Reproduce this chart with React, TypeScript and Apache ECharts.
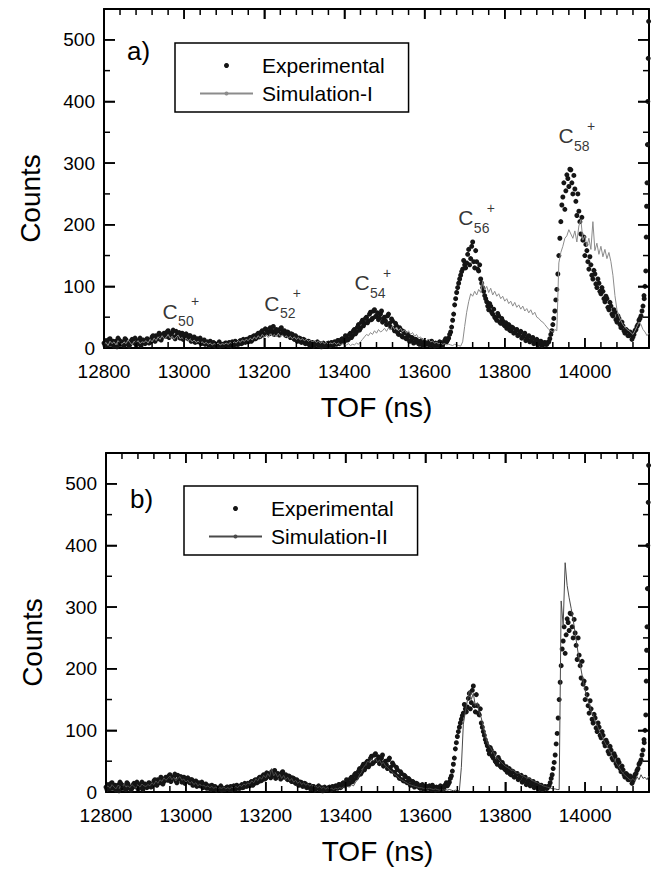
import React, { useEffect, useRef } from "react";
import * as echarts from "echarts";

const TOF_START = 12800;
const TOF_STEP = 5;
const TOF_START_B = 12802.5;
const TOF_MIN = 12800;
const TOF_MAX = 14160;
const COUNT_MIN = 0;
const COUNT_MAX = 550;

// Experimental counts, 5 ns bins from 12800 ns
const expCounts = [
  8, 12, 5, 15, 9, 3, 11, 16, 7, 10, 4, 13, 8, 6, 14, 9, 5, 12, 16, 8, 11,
  10, 14, 9, 18, 13, 20, 15, 22, 17, 24,
  19, 28, 21, 25, 18, 27, 22, 16, 24, 19,
  23, 15, 20, 12, 18, 14, 10, 16, 8, 13,
  9, 6, 11, 5, 8, 4, 7, 3, 6, 5,
  8, 4, 7, 10, 5, 9, 6, 12, 8, 11,
  14, 10, 17, 13, 20, 16, 24, 19, 28, 22,
  30, 25, 33, 27, 22, 30, 26, 31, 24, 28,
  20, 25, 17, 22, 14, 18, 12, 15, 10, 13,
  8, 11, 6, 9, 5, 8, 4, 7, 3, 6,
  5, 8, 4, 7, 10, 6, 12, 9, 15, 11,
  18, 14, 24, 20, 30, 26, 38, 32, 45, 40,
  50, 44, 58, 48, 62, 52, 46, 55, 42, 50,
  38, 55, 34, 44, 28, 36, 22, 30, 18, 25,
  15, 20, 12, 16, 9, 13, 7, 11, 5, 9,
  6, 10, 4, 8, 3, 7, 5, 9, 4, 12,
  10, 16, 26, 45, 70, 90, 105, 118, 128, 135,
  138, 160, 145, 172, 130, 140, 125, 112, 98, 85,
  75, 62, 68, 55, 50, 45, 52, 40, 44, 36,
  32, 38, 28, 33, 25, 30, 22, 27, 18, 24,
  15, 20, 12, 17, 9, 14, 7, 11, 5, 9,
  6, 10, 22, 38, 60, 95, 150, 205, 245, 225,
  281, 262, 289, 250, 258, 215, 222, 185, 175, 150,
  158, 128, 135, 112, 120, 98, 105, 88, 92, 75,
  80, 62, 68, 52, 58, 42, 48, 33, 36, 24,
  28, 20, 24, 18, 28, 35, 45, 52, 68,
];

// Experimental counts, interleaved 5 ns bins from 12802.5 ns
const expCountsB = [
  4, 9, 14, 6, 11, 8, 2, 13, 10, 5, 15, 7, 3, 11, 9, 16, 6, 10, 4, 13, 7,
  15, 8, 12, 20, 11, 16, 24, 13, 19, 21,
  26, 17, 23, 29, 15, 21, 25, 19, 14, 22,
  17, 20, 11, 16, 9, 15, 12, 7, 11, 6,
  10, 4, 7, 9, 3, 6, 10, 5, 4, 8,
  5, 9, 3, 8, 11, 6, 10, 7, 14, 9,
  12, 16, 11, 19, 15, 22, 18, 26, 21, 31,
  27, 23, 29, 35, 25, 28, 21, 33, 27, 22,
  26, 19, 23, 16, 20, 11, 16, 9, 14, 7,
  10, 5, 9, 3, 7, 10, 5, 2, 8, 4,
  7, 3, 9, 5, 8, 12, 7, 14, 10, 20,
  13, 22, 17, 28, 23, 34, 29, 42, 36, 48,
  41, 55, 46, 60, 51, 57, 49, 60, 47, 44,
  52, 40, 47, 32, 40, 25, 33, 20, 27, 16,
  22, 11, 17, 8, 14, 10, 6, 12, 4, 8,
  9, 5, 11, 6, 8, 4, 10, 6, 8, 15,
  13, 22, 34, 55, 80, 98, 112, 124, 142, 130,
  152, 135, 165, 140, 158, 128, 135, 105, 92, 80,
  68, 72, 58, 63, 48, 56, 42, 48, 38, 41,
  35, 29, 34, 24, 29, 20, 25, 16, 21, 12,
  18, 10, 15, 7, 12, 5, 10, 4, 8, 6,
  9, 15, 28, 48, 78, 120, 178, 232, 268, 255,
  275, 290, 268, 280, 238, 250, 205, 212, 180, 168,
  140, 148, 118, 126, 104, 112, 92, 98, 80, 84,
  66, 74, 55, 62, 46, 52, 38, 42, 28, 30,
  20, 26, 14, 22, 30, 38, 48, 60, 85,
];

// Rising edge of the next peak at the right border: [TOF, counts]
const expEdge = [
  [14148, 80], [14150, 100], [14152, 125], [14153, 180], [14154, 230],
  [14155, 268], [14156, 330], [14157, 400], [14158, 470], [14159, 530],
];

// Simulation-I counts, 5 ns bins from 12800 ns
const simICounts = [
  6, 9, 4, 11, 7, 10, 5, 12, 8, 6, 10, 7, 13, 9, 5, 11, 8, 12, 7, 10, 9,
  12, 8, 14, 10, 16, 12, 18, 14, 20, 15, 17, 22, 16, 19, 14, 18, 21, 15, 17, 13,
  16, 12, 14, 10, 13, 9, 11, 8, 10, 7, 9, 6, 8, 5, 7, 6, 8, 5, 7, 6,
  8, 6, 9, 7, 10, 8, 12, 9, 13, 11, 14, 12, 16, 13, 18, 15, 20, 16, 22, 18,
  21, 17, 23, 19, 22, 18, 24, 19, 21, 17, 20, 16, 19, 15, 18, 14, 17, 13, 15, 12,
  14, 11, 13, 10, 12, 9, 11, 8, 10, 7, 9, 6, 8, 7, 9, 6, 8, 5, 7, 6,
  5, 7, 4, 6, 5, 8, 6, 10, 14, 18, 22, 20, 25, 22, 28, 24, 30, 26, 28, 32,
  27, 33, 29, 36, 30, 34, 28, 32, 26, 30, 24, 28, 22, 25, 19, 22, 16, 18, 13, 15,
  12, 14, 10, 11, 8, 9, 7, 8, 6, 7, 5, 6, 5, 4, 6, 5, 4, 3, 10, 35,
  58, 75, 88, 84, 92, 86, 95, 90, 108, 94, 100, 90, 97, 86, 92, 84, 88, 80, 84, 76,
  80, 72, 76, 68, 74, 66, 70, 63, 68, 60, 64, 57, 62, 54, 58, 50, 48, 44, 42, 38,
  34, 30, 28, 26, 30, 28, 138, 155, 165, 178, 182, 192, 185, 178, 190, 172, 198, 208, 175, 182,
  165, 178, 160, 205, 158, 170, 152, 165, 148, 160, 145, 155, 140, 118, 85, 62, 52, 44, 38, 34,
  30, 28, 25, 22, 28, 35, 42, 38, 30, 26, 20, 24,
];

// Simulation-II counts, 5 ns bins from 12800 ns
const simIICounts = [
  7, 10, 6, 12, 8, 5, 11, 9, 6, 13, 8, 10, 7, 12, 9, 6, 11, 8, 13, 10, 9,
  12, 10, 15, 12, 18, 14, 20, 17, 23, 19, 22, 26, 20, 24, 18, 22, 25, 19, 21, 16,
  19, 14, 17, 12, 15, 10, 13, 9, 11, 8, 10, 7, 9, 6, 8, 5, 7, 6, 8, 5,
  7, 5, 8, 6, 9, 7, 11, 9, 13, 11, 15, 13, 18, 15, 21, 18, 24, 21, 27, 23,
  30, 25, 38, 26, 31, 24, 29, 22, 27, 20, 24, 18, 22, 16, 19, 14, 17, 12, 15, 11,
  13, 10, 12, 8, 10, 7, 9, 6, 8, 5, 7, 5, 6, 4, 6, 5, 7, 6, 8, 7,
  9, 8, 12, 10, 16, 20, 28, 32, 40, 44, 50, 48, 54, 50, 55, 48, 52, 46, 48, 42,
  40, 36, 34, 30, 28, 25, 22, 20, 18, 16, 14, 12, 11, 10, 9, 8, 7, 7, 6, 6,
  5, 6, 5, 4, 5, 4, 3, 4, 3, 4, 3, 4, 3, 2, 3, 2, 2, 40, 110, 130,
  148, 165, 150, 160, 140, 145, 128, 120, 105, 92, 80, 74, 70, 64, 60, 55, 52, 48, 45, 42,
  40, 38, 35, 36, 32, 30, 31, 27, 26, 24, 22, 23, 19, 18, 16, 15, 13, 12, 10, 9,
  8, 7, 6, 5, 5, 4, 4, 310, 270, 372, 335, 315, 298, 280, 258, 236, 215, 198, 180, 165,
  152, 144, 132, 125, 115, 108, 100, 94, 86, 80, 74, 68, 62, 56, 50, 45, 40, 35, 30, 27,
  24, 21, 19, 22, 18, 25, 20, 28, 22, 24, 20, 26,
];

// Peak annotations (panel a): C_n^+ placed at (TOF, counts)
const annoSub = ["50", "52", "54", "56", "58"];
const annoTof = [12965, 13219, 13444, 13703, 13953];
const annoCounts = [60, 73, 106, 211, 344];

// Tick values of the frame
const xMajorTicks = [12800, 13000, 13200, 13400, 13600, 13800, 14000];
const xMinorStep = 40;
const yMajorTicks = [100, 200, 300, 400, 500];
const yMinorTicks = [50, 150, 250, 350, 450];

const FONT = '"Liberation Sans", Arial, Helvetica, sans-serif';

const toPairs = (vals: number[], start = TOF_START) =>
  vals.map((v, i) => [start + i * TOF_STEP, v]);

const lineCol = "#000";

function tick(len: number) {
  return { show: true, inside: true, length: len, lineStyle: { color: lineCol, width: 1.5 } };
}

function xAxes(g: number) {
  const common = {
    type: "value",
    gridIndex: g,
    min: TOF_MIN,
    max: TOF_MAX,
    splitLine: { show: false },
  };
  return [
    {
      ...common,
      position: "bottom",
      interval: 200,
      axisLine: { show: true, onZero: false, lineStyle: { color: lineCol, width: 2 } },
      axisTick: tick(10),
      axisLabel: {
        show: true,
        color: "#000",
        fontSize: 19,
        fontFamily: FONT,
        margin: 14,
        formatter: (v: number) => (v % 200 === 0 ? String(v) : ""),
      },
      name: "TOF (ns)",
      nameLocation: "middle",
      nameGap: 45,
      nameTextStyle: { color: "#000", fontSize: 28, fontFamily: FONT },
    },
    {
      ...common,
      position: "top",
      interval: 200,
      axisLine: { show: true, onZero: false, lineStyle: { color: lineCol, width: 2 } },
      axisTick: tick(10),
      axisLabel: { show: false },
    },
  ];
}

function yAxes(g: number) {
  const common = {
    type: "value",
    gridIndex: g,
    min: COUNT_MIN,
    max: COUNT_MAX,
    splitLine: { show: false },
  };
  return [
    {
      ...common,
      position: "left",
      interval: 100,
      axisLine: { show: true, onZero: false, lineStyle: { color: lineCol, width: 2 } },
      axisTick: tick(11),
      axisLabel: {
        show: true,
        color: "#000",
        fontSize: 19,
        fontFamily: FONT,
        margin: 9,
        formatter: (v: number) => (v % 100 === 0 ? String(v) : ""),
      },
      name: "Counts",
      nameLocation: "middle",
      nameRotate: 90,
      nameGap: 60,
      nameTextStyle: {
        color: "#000",
        fontSize: 28,
        fontFamily: FONT,
        padding: [0, 40, 0, 0],
      },
    },
    {
      ...common,
      position: "right",
      interval: 100,
      axisLine: { show: true, onZero: false, lineStyle: { color: lineCol, width: 2 } },
      axisTick: tick(11),
      axisLabel: { show: false },
    },
  ];
}

// tick descriptors: [x, y, kind]; kind 0 = x major, 1 = x minor, 2 = y major, 3 = y minor
function tickData() {
  const d: number[][] = [];
  xMajorTicks.forEach((v) => d.push([v, COUNT_MIN, 0]));
  for (let v = TOF_MIN + xMinorStep; v < TOF_MAX; v += xMinorStep) {
    if (v % 200 !== 0) d.push([v, COUNT_MIN, 1]);
  }
  yMajorTicks.forEach((v) => d.push([TOF_MIN, v, 2]));
  yMinorTicks.forEach((v) => d.push([TOF_MIN, v, 3]));
  return d;
}

function renderTick(_params: any, api: any) {
  const a = api.value(0);
  const b = api.value(1);
  const k = api.value(2);
  const style = { stroke: "#000", lineWidth: 1.5, fill: "none" };
  if (k === 0 || k === 1) {
    const len = k === 0 ? 10 : 6;
    const p0 = api.coord([a, COUNT_MIN]);
    const p1 = api.coord([a, COUNT_MAX]);
    return {
      type: "group",
      children: [
        { type: "line", shape: { x1: p0[0], y1: p0[1], x2: p0[0], y2: p0[1] - len }, style },
        { type: "line", shape: { x1: p1[0], y1: p1[1], x2: p1[0], y2: p1[1] + len }, style },
      ],
    };
  }
  const len = k === 2 ? 11 : 6;
  const q0 = api.coord([TOF_MIN, b]);
  const q1 = api.coord([TOF_MAX, b]);
  return {
    type: "group",
    children: [
      { type: "line", shape: { x1: q0[0], y1: q0[1], x2: q0[0] + len, y2: q0[1] }, style },
      { type: "line", shape: { x1: q1[0], y1: q1[1], x2: q1[0] - len, y2: q1[1] }, style },
    ],
  };
}

function legendFor(left: number, top: number, simName: string) {
  return {
    orient: "vertical",
    left,
    top,
    itemWidth: 53,
    itemHeight: 5,
    itemGap: 7,
    padding: [12, 24, 8, 24],
    borderColor: "#000",
    borderWidth: 1.5,
    borderRadius: 0,
    backgroundColor: "#fff",
    selectedMode: false,
    symbolKeepAspect: true,
    textStyle: { color: "#000", fontSize: 21, fontFamily: FONT, padding: [0, 0, 0, 4] },
    data: [{ name: "Experimental", icon: "circle" }, { name: simName }],
  };
}

function annotationData() {
  const items: any[] = [];
  const base = { show: true, position: "inside", color: "#000", fontFamily: FONT };
  annoSub.forEach((sub, i) => {
    const value = [annoTof[i], annoCounts[i]];
    items.push({ value, label: { ...base, formatter: "C", fontSize: 21, align: "center", offset: [0, 0] } });
    items.push({ value, label: { ...base, formatter: sub, fontSize: 14, align: "left", offset: [8, 10] } });
    items.push({ value, label: { ...base, formatter: "+", fontSize: 14, align: "center", offset: [25, -10] } });
  });
  return items;
}

export default function App() {
  const ref = useRef<HTMLDivElement>(null);

  useEffect(() => {
    if (!ref.current) return;
    const chart = echarts.init(ref.current, null, { renderer: "svg" });

    const expData = toPairs(expCounts)
      .concat(toPairs(expCountsB, TOF_START_B))
      .concat(expEdge);
    const SIM_I_COLOR = "#8c8c8c";
    const SIM_II_COLOR = "#4a4a4a";
    const dotStyle = { color: "#151515", opacity: 1 };
    const ticks = tickData();

    const option: any = {
      animation: false,
      title: [
        { text: "a)", left: 127, top: 38, padding: 0, textStyle: { fontSize: 26, fontWeight: "normal", color: "#000", fontFamily: FONT } },
        { text: "b)", left: 130, top: 486, padding: 0, textStyle: { fontSize: 26, fontWeight: "normal", color: "#000", fontFamily: FONT } },
      ],
      legend: [legendFor(175, 43, "Simulation-I"), legendFor(184, 486, "Simulation-II")],
      grid: [
        { left: 104, top: 9, right: 7, height: 339 },
        { left: 106, top: 453, right: 7, height: 339 },
      ],
      xAxis: [...xAxes(0), ...xAxes(1)],
      yAxis: [...yAxes(0), ...yAxes(1)],
      series: [
        {
          name: "Experimental",
          type: "scatter",
          xAxisIndex: 0,
          yAxisIndex: 0,
          symbol: "circle",
          symbolSize: 5,
          itemStyle: dotStyle,
          data: expData,
          z: 2,
        },
        {
          name: "Simulation-I",
          type: "line",
          xAxisIndex: 0,
          yAxisIndex: 0,
          showSymbol: false,
          symbol: "none",
          itemStyle: { color: SIM_I_COLOR },
          lineStyle: { color: SIM_I_COLOR, width: 1 },
          data: toPairs(simICounts),
          z: 3,
        },
        {
          name: "Peaks",
          type: "scatter",
          xAxisIndex: 0,
          yAxisIndex: 0,
          symbol: "circle",
          symbolSize: 1,
          silent: true,
          itemStyle: { color: "rgba(0,0,0,0)" },
          data: annotationData(),
          z: 4,
        },
        {
          name: "Ticks a",
          type: "custom",
          xAxisIndex: 0,
          yAxisIndex: 0,
          silent: true,
          clip: false,
          dimensions: ["x", "y", "k"],
          encode: { x: 0, y: 1 },
          renderItem: renderTick,
          data: ticks,
          z: 5,
        },
        {
          name: "Experimental",
          type: "scatter",
          xAxisIndex: 2,
          yAxisIndex: 2,
          symbol: "circle",
          symbolSize: 5,
          itemStyle: dotStyle,
          data: expData,
          z: 2,
        },
        {
          name: "Simulation-II",
          type: "line",
          xAxisIndex: 2,
          yAxisIndex: 2,
          showSymbol: false,
          symbol: "none",
          itemStyle: { color: SIM_II_COLOR },
          lineStyle: { color: SIM_II_COLOR, width: 1 },
          data: toPairs(simIICounts),
          z: 3,
        },
        {
          name: "Ticks b",
          type: "custom",
          xAxisIndex: 2,
          yAxisIndex: 2,
          silent: true,
          clip: false,
          dimensions: ["x", "y", "k"],
          encode: { x: 0, y: 1 },
          renderItem: renderTick,
          data: ticks,
          z: 5,
        },
      ],
    };
    chart.setOption(option);

    return () => chart.dispose();
  }, []);

  return (
    <div
      ref={ref}
      style={{ position: "absolute", left: 0, top: 0, width: 656, height: 869, background: "#fff" }}
    />
  );
}
